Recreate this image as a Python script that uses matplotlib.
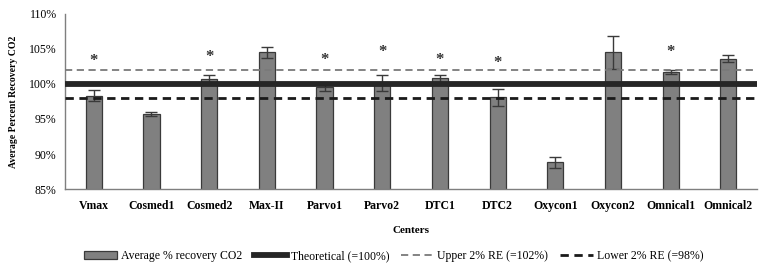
import numpy as np
import matplotlib.pyplot as plt
from matplotlib.ticker import PercentFormatter

plt.rcParams['font.family'] = ['Liberation Serif', 'DejaVu Serif']

centers = ['Vmax', 'Cosmed1', 'Cosmed2', 'Max-II', 'Parvo1', 'Parvo2',
           'DTC1', 'DTC2', 'Oxycon1', 'Oxycon2', 'Omnical1', 'Omnical2']
recovery = [98.3, 95.7, 100.7, 104.5, 99.6, 100.1, 100.8, 98.1, 88.8, 104.5, 101.7, 103.6]
errors = [0.8, 0.3, 0.6, 0.8, 0.6, 1.15, 0.5, 1.2, 0.8, 2.3, 0.3, 0.5]
star_y = [103.3, None, 103.9, None, 103.4, 104.6, 103.4, 103.0, None, None, 104.6, None]

fig = plt.figure(figsize=(7.59, 2.67), dpi=100)
ax = fig.add_axes([0.0856, 0.292, 0.912, 0.656])

x = np.arange(len(centers))
bars = ax.bar(x, recovery, width=0.28, color='#808080', edgecolor='#3a3a3a', linewidth=0.9,
              yerr=errors, error_kw=dict(ecolor='#3a3a3a', elinewidth=1, capsize=4, capthick=1),
              label='Average % recovery CO2', zorder=2)
l1 = ax.axhline(100, color='#262626', linewidth=4.2, label='Theoretical (=100%)', zorder=3)
l2 = ax.axhline(102, color='#7a7a7a', linewidth=1.3, linestyle=(0, (4, 2.5)), label='Upper 2% RE (=102%)', zorder=3)
l3 = ax.axhline(98, color='#1a1a1a', linewidth=2, linestyle=(0, (3, 2)), label='Lower 2% RE (=98%)', zorder=3)

for xi, sy in zip(x, star_y):
    if sy is not None:
        ax.text(xi, sy, '*', ha='center', va='center', fontsize=12, fontweight='bold', color='#333333')

ax.set_ylim(85, 110)
ax.set_xlim(-0.5, len(centers) - 0.5)
ax.set_yticks([85, 90, 95, 100, 105, 110])
ax.yaxis.set_major_formatter(PercentFormatter(decimals=0))
ax.set_xticks(x)
ax.set_xticklabels(centers, fontweight='bold', fontsize=8.5)
ax.tick_params(axis='y', labelsize=8.5, length=0, pad=6)
ax.tick_params(axis='x', length=0, pad=8)
for s in ['top', 'right']:
    ax.spines[s].set_visible(False)
for s in ['left', 'bottom']:
    ax.spines[s].set_color('#7f7f7f')
    ax.spines[s].set_linewidth(1)

ax.set_xlabel('Centers', fontweight='bold', fontsize=8, labelpad=10)
ax.set_ylabel('Average Percent Recovery CO2', fontweight='bold', fontsize=7, labelpad=8)

ax.legend([bars, l1, l2, l3], [h.get_label() for h in [bars, l1, l2, l3]],
          loc='upper center', bbox_to_anchor=(0.475, -0.29), ncol=4, frameon=False,
          fontsize=8.5, handlelength=2.8, columnspacing=1.0, handletextpad=0.3)

fig.savefig('out.png', dpi=100)
